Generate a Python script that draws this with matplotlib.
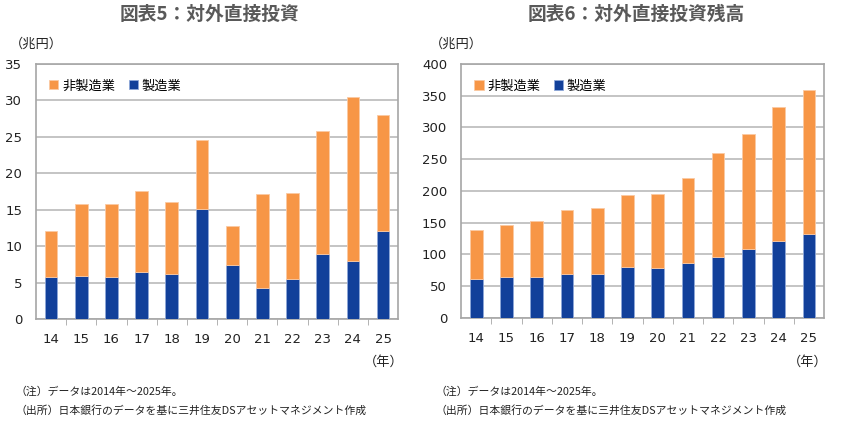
import numpy as np
import matplotlib.pyplot as plt

plt.rcParams['font.family'] = ['DejaVu Sans', 'Noto Sans CJK JP']

years = ['14', '15', '16', '17', '18', '19', '20', '21', '22', '23', '24', '25']

# 図表5: flow (trillion yen)
flow_total = [12.0, 15.7, 15.8, 17.6, 16.0, 24.5, 12.8, 17.1, 17.3, 25.7, 30.4, 27.9]
flow_mfg = [5.8, 5.9, 5.7, 6.5, 6.1, 15.1, 7.4, 4.3, 5.5, 8.9, 8.0, 12.1]

# 図表6: stock (trillion yen)
stock_total = [138.5, 147, 152.5, 170, 173, 193.5, 195, 220.5, 260, 289.5, 332.5, 359]
stock_mfg = [62, 64, 64, 69, 69, 80, 78, 86, 96.5, 108.5, 122, 133]

orange = '#F79646'
navy = '#12409A'
grid_c = '#BFBFBF'
text_c = '#222222'


def draw(ax, total, mfg, ymax, step, title, title_x):
    x = np.arange(len(years))
    nonmfg = np.array(total) - np.array(mfg)
    ax.bar(x, mfg, width=0.42, color=navy, edgecolor='#8FA8D8', linewidth=0.6,
           label='製造業', zorder=3)
    ax.bar(x, nonmfg, bottom=mfg, width=0.42, color=orange, edgecolor='#FBC9A2',
           linewidth=0.6, label='非製造業', zorder=3)
    ax.set_xlim(-0.5, len(years) - 0.5)
    ax.set_ylim(0, ymax)
    ax.set_yticks(np.arange(0, ymax + step / 2, step))
    ax.yaxis.grid(True, color=grid_c, linewidth=1.3, zorder=0)
    ax.set_axisbelow(True)
    for s in ax.spines.values():
        s.set_color('#A6A6A6')
        s.set_linewidth(1.2)
    ax.tick_params(axis='y', length=0, labelsize=9.5, colors=text_c, pad=10)
    ax.set_xticks(x)
    ax.set_xticklabels(years)
    ax.tick_params(axis='x', length=0, labelsize=9.5, colors=text_c, pad=10)
    ax.set_xticks(np.arange(0.5, len(years) - 0.5), minor=True)
    ax.tick_params(axis='x', which='minor', length=4, color='#A6A6A6', direction='out')
    h, l = ax.get_legend_handles_labels()
    ax.legend(h[::-1], l[::-1], loc='upper left', bbox_to_anchor=(0.0, 0.99),
              frameon=False, fontsize=9.5, handlelength=0.7, handleheight=0.7,
              handletextpad=0.3, columnspacing=1.0, ncol=2, borderaxespad=0.6)
    fig.text(title_x, 0.968, title, ha='center', va='center', fontsize=13.5,
             fontweight='bold', color='#595959', family='Noto Sans CJK JP')


fig = plt.figure(figsize=(8.46, 4.38), dpi=100)
ax1 = fig.add_axes([0.0426, 0.2717, 0.428, 0.583])
ax2 = fig.add_axes([0.545, 0.2740, 0.429, 0.580])

draw(ax1, flow_total, flow_mfg, 35, 5, '図表5：対外直接投資', 0.248)
draw(ax2, stock_total, stock_mfg, 400, 50, '図表6：対外直接投資残高', 0.752)

for xl, xn, xr in [(0.012, 0.018, 0.477), (0.508, 0.515, 0.978)]:
    fig.text(xl, 0.899, '（兆円）', fontsize=9.5, color=text_c, family='Noto Sans CJK JP',
             va='center')
    fig.text(xr, 0.172, '（年）', fontsize=9.5, color=text_c, family='Noto Sans CJK JP',
             va='center', ha='right')
    fig.text(xn, 0.105, '（注）データは2014年～2025年。', fontsize=7.8, color=text_c,
             family='Noto Sans CJK JP', va='center')
    fig.text(xn, 0.062, '（出所）日本銀行のデータを基に三井住友DSアセットマネジメント作成',
             fontsize=7.8, color=text_c, family='Noto Sans CJK JP', va='center')

fig.savefig('out.png', dpi=100)
